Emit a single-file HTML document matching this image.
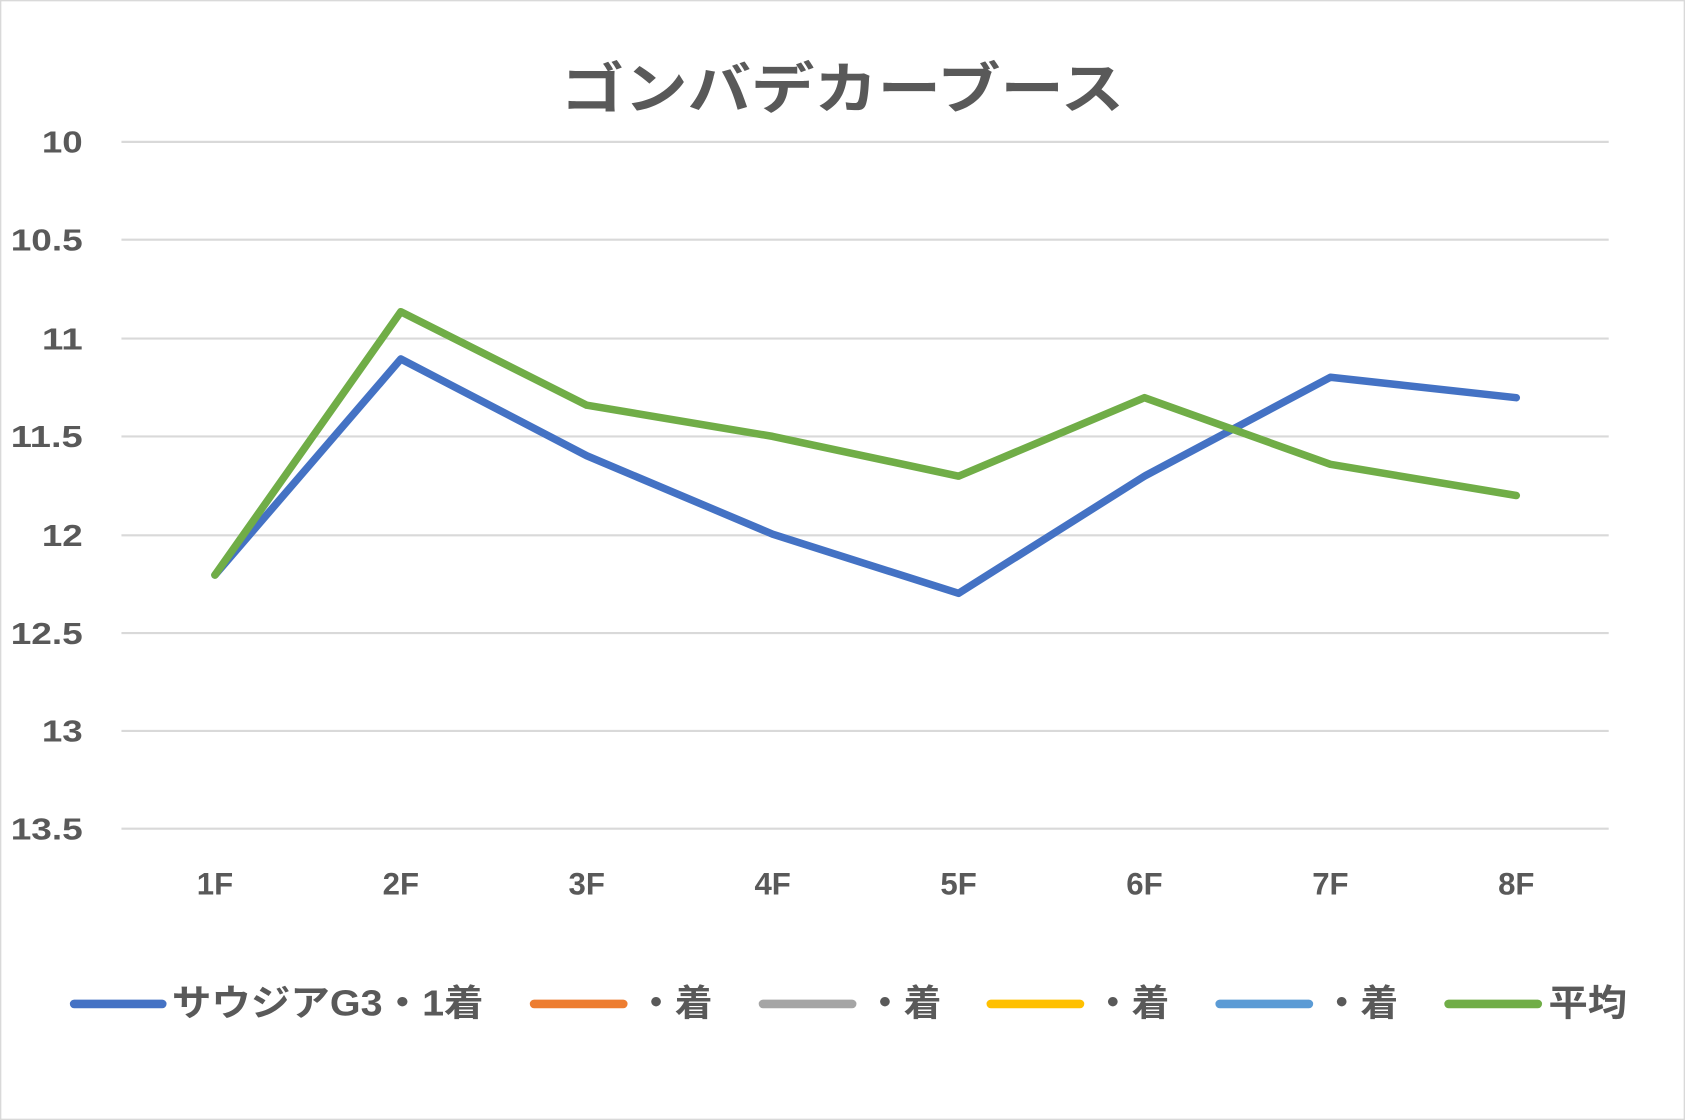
<!DOCTYPE html>
<html><head><meta charset="utf-8"><style>
html,body{margin:0;padding:0;background:#fff;}
svg{display:block;}
text{font-family:"Liberation Sans","Noto Sans CJK JP",sans-serif;font-weight:bold;fill:#595959;}
</style></head><body>
<svg width="1685" height="1120" viewBox="0 0 1568 1042" preserveAspectRatio="none">
<rect x="0.5" y="0.5" width="1567" height="1041" fill="#fff" stroke="#d9d9d9" stroke-width="1.5"/>
<text x="522" y="101" font-size="52" textLength="524" lengthAdjust="spacingAndGlyphs">ゴンバデカーブース</text>
<g stroke="#d9d9d9" stroke-width="2">
<line x1="113" x2="1497" y1="132" y2="132"/><line x1="113" x2="1497" y1="223" y2="223"/>
<line x1="113" x2="1497" y1="315" y2="315"/><line x1="113" x2="1497" y1="406" y2="406"/>
<line x1="113" x2="1497" y1="498" y2="498"/><line x1="113" x2="1497" y1="589" y2="589"/>
<line x1="113" x2="1497" y1="680" y2="680"/><line x1="113" x2="1497" y1="771" y2="771"/>
</g>
<g font-size="28" lengthAdjust="spacingAndGlyphs">
<text x="39" y="142" textLength="38" lengthAdjust="spacingAndGlyphs">10</text><text x="10" y="233" textLength="67" lengthAdjust="spacingAndGlyphs">10.5</text><text x="39" y="325" textLength="38" lengthAdjust="spacingAndGlyphs">11</text>
<text x="10" y="416" textLength="67" lengthAdjust="spacingAndGlyphs">11.5</text><text x="39" y="508" textLength="38" lengthAdjust="spacingAndGlyphs">12</text><text x="10" y="599" textLength="67" lengthAdjust="spacingAndGlyphs">12.5</text>
<text x="39" y="690" textLength="38" lengthAdjust="spacingAndGlyphs">13</text><text x="10" y="781" textLength="67" lengthAdjust="spacingAndGlyphs">13.5</text>
</g>
<g font-size="29" text-anchor="middle">
<text x="200" y="832">1F</text><text x="373" y="832">2F</text><text x="546" y="832">3F</text>
<text x="719" y="832">4F</text><text x="892" y="832">5F</text><text x="1065" y="832">6F</text>
<text x="1238" y="832">7F</text><text x="1411" y="832">8F</text>
</g>
<polyline fill="none" stroke="#4472c4" stroke-width="7" stroke-linejoin="round" stroke-linecap="round" points="200,535 373,334 546,424 719,497 892,552 1065,443 1238,351 1411,370"/>
<polyline fill="none" stroke="#70ad47" stroke-width="7" stroke-linejoin="round" stroke-linecap="round" points="200,535 373,290 546,377 719,406 892,443 1065,370 1238,432 1411,461"/>
<g stroke-width="8" stroke-linecap="round">
<line x1="69" x2="151" y1="934" y2="934" stroke="#4472c4"/>
<line x1="497" x2="580" y1="934" y2="934" stroke="#ed7d31"/>
<line x1="710" x2="793" y1="934" y2="934" stroke="#a5a5a5"/>
<line x1="922" x2="1005" y1="934" y2="934" stroke="#ffc000"/>
<line x1="1135" x2="1218" y1="934" y2="934" stroke="#5b9bd5"/>
<line x1="1348" x2="1431" y1="934" y2="934" stroke="#70ad47"/>
</g>
<g font-size="34">
<text x="160" y="945" textLength="290" lengthAdjust="spacingAndGlyphs">サウジアG3・1着</text>
<text x="593" y="945" textLength="70" lengthAdjust="spacingAndGlyphs">・着</text>
<text x="806" y="945" textLength="70" lengthAdjust="spacingAndGlyphs">・着</text>
<text x="1018" y="945" textLength="70" lengthAdjust="spacingAndGlyphs">・着</text>
<text x="1231" y="945" textLength="70" lengthAdjust="spacingAndGlyphs">・着</text>
<text x="1441" y="945" textLength="73" lengthAdjust="spacingAndGlyphs">平均</text>
</g>
</svg>
</body></html>
